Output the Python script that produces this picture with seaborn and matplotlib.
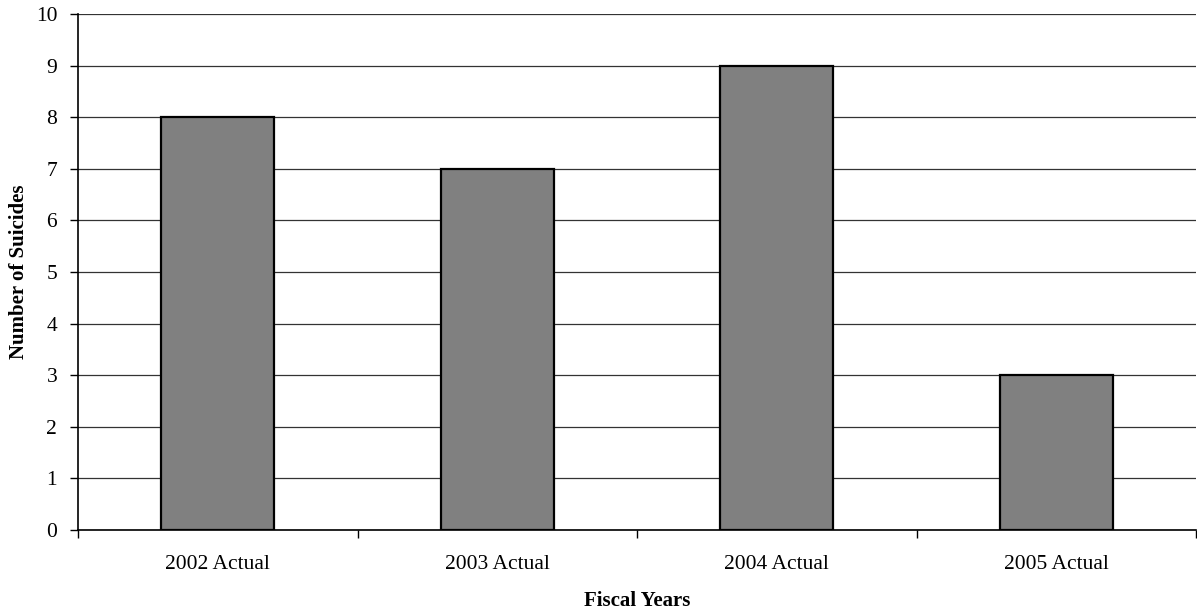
import matplotlib
matplotlib.use("Agg")
import matplotlib.pyplot as plt
import seaborn as sns
import pandas as pd
from matplotlib.ticker import FixedLocator

years = ["2002 Actual", "2003 Actual", "2004 Actual", "2005 Actual"]
suicides = [8, 7, 9, 3]
y_ticks = list(range(0, 11))

sns.set_theme(style="white")
plt.rcParams["font.family"] = ["Liberation Serif", "DejaVu Serif"]

df = pd.DataFrame({"year": years, "count": suicides})

fig = plt.figure(figsize=(11.97, 6.13), dpi=100)
ax = fig.add_axes([0.0652, 0.1354, 0.9340, 0.8418])

sns.barplot(data=df, x="year", y="count", color="#808080", saturation=1,
            edgecolor="black", linewidth=1.6, width=0.405, ax=ax, zorder=3)

ax.set_ylim(0, 10)
ax.set_xlim(-0.5, len(years) - 0.5)
ax.set_yticks(y_ticks)
ax.yaxis.grid(True, color="#333333", linewidth=0.9, zorder=0)
ax.xaxis.grid(False)
ax.set_axisbelow(True)

for side in ["top", "right"]:
    ax.spines[side].set_visible(False)
for side in ["left", "bottom"]:
    ax.spines[side].set_color("black")
    ax.spines[side].set_linewidth(1.2)
    ax.spines[side].set_zorder(4)

# category separators as minor ticks on the x axis
ax.xaxis.set_minor_locator(FixedLocator([i - 0.5 for i in range(len(years) + 1)]))
ax.tick_params(axis="x", which="major", length=0, pad=18, labelsize=15.5, colors="black")
ax.tick_params(axis="x", which="minor", length=6, width=1.0, color="black", direction="out", bottom=True)
ax.tick_params(axis="y", which="major", length=6, width=1.0, color="black", direction="out",
               left=True, pad=9, labelsize=15.5, labelcolor="black")

ax.set_xlabel("Fiscal Years", fontsize=15, fontweight="bold", labelpad=12, color="black")
ax.set_ylabel("Number of Suicides", fontsize=15, fontweight="bold", labelpad=5, color="black")

fig.savefig("out.png", dpi=100, facecolor="white")
